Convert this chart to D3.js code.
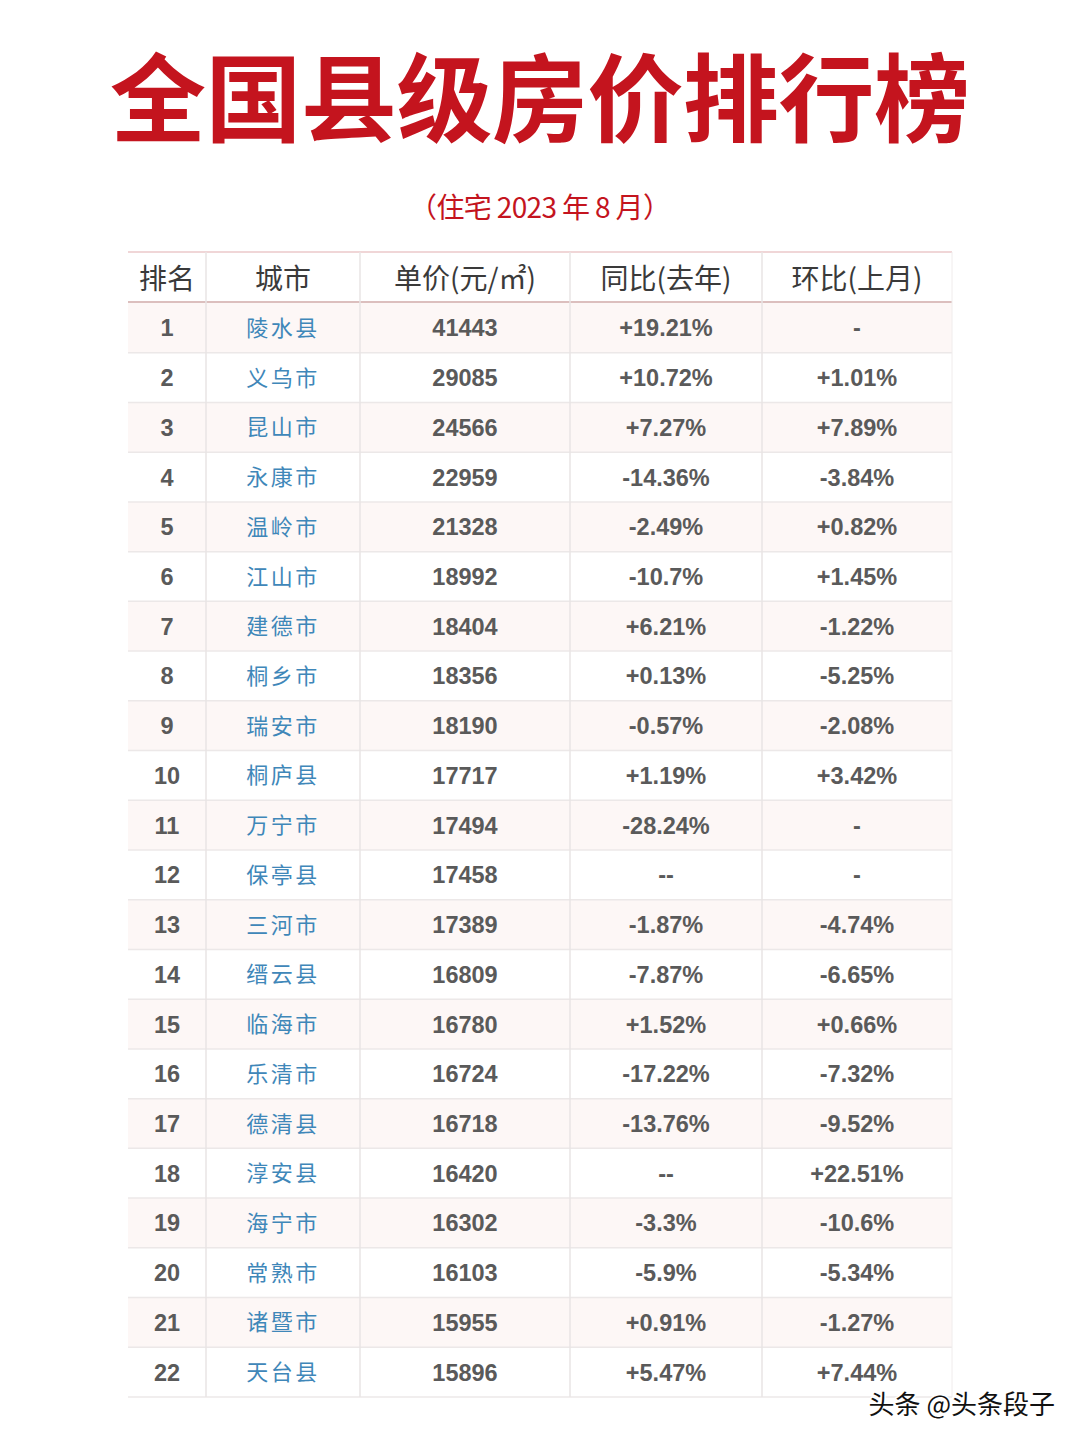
<!DOCTYPE html>
<html><head><meta charset="utf-8">
<script src="https://cdn.jsdelivr.net/npm/d3@7"></script>
<style>body{margin:0;background:#fff}svg{display:block}</style>
</head><body><div id="c"></div>
<script>
const headers = ["排名","城市","单价(元/㎡)","同比(去年)","环比(上月)"];
const ranks = d3.range(1,23);
const cities = ["陵水县","义乌市","昆山市","永康市","温岭市","江山市","建德市","桐乡市","瑞安市","桐庐县","万宁市","保亭县","三河市","缙云县","临海市","乐清市","德清县","淳安县","海宁市","常熟市","诸暨市","天台县"];
const prices = [41443,29085,24566,22959,21328,18992,18404,18356,18190,17717,17494,17458,17389,16809,16780,16724,16718,16420,16302,16103,15955,15896];
const yoy = ["+19.21%","+10.72%","+7.27%","-14.36%","-2.49%","-10.7%","+6.21%","+0.13%","-0.57%","+1.19%","-28.24%","--","-1.87%","-7.87%","+1.52%","-17.22%","-13.76%","--","-3.3%","-5.9%","+0.91%","+5.47%"];
const mom = ["-","+1.01%","+7.89%","-3.84%","+0.82%","+1.45%","-1.22%","-5.25%","-2.08%","+3.42%","-","-","-4.74%","-6.65%","+0.66%","-7.32%","-9.52%","+22.51%","-10.6%","-5.34%","-1.27%","+7.44%"];

const W=1080,H=1439;
const svg=d3.select("#c").append("svg").attr("width",W).attr("height",H);
svg.append("rect").attr("width",W).attr("height",H).attr("fill","#fff");

const colEdges=[128,206,360,570,762,952];
const cx=i=>(colEdges[i]+colEdges[i+1])/2;
const y=d3.scaleBand().domain(ranks).range([303,1397]).paddingInner(0);

// title
svg.append("text").attr("x",540).attr("y",134).attr("text-anchor","middle")
 .attr("font-family","'Noto Sans CJK SC'").attr("font-weight",700).attr("font-size",96)
 .attr("fill","#c4141e").attr("textLength",860).attr("lengthAdjust","spacing").text("全国县级房价排行榜");
svg.append("text").attr("x",540).attr("y",218).attr("text-anchor","middle")
 .attr("font-family","'Noto Sans CJK SC'").attr("font-size",28).attr("fill","#c4141e")
 .attr("textLength",262).attr("lengthAdjust","spacing")
 .text("（住宅  2023 年 8 月）");

// stripes
const g=svg.append("g");
g.selectAll("rect.row").data(ranks).join("rect").attr("class","row")
 .attr("x",colEdges[0]).attr("width",colEdges[5]-colEdges[0])
 .attr("y",d=>y(d)).attr("height",y.bandwidth())
 .attr("fill",d=>d%2?"#fdf7f6":"#ffffff");
// header lines
g.append("line").attr("x1",128).attr("x2",952).attr("y1",252).attr("y2",252).attr("stroke","#f0d6d7").attr("stroke-width",2);
g.append("line").attr("x1",128).attr("x2",952).attr("y1",302).attr("y2",302).attr("stroke","#dcbfbe").attr("stroke-width",2);
// row lines
g.selectAll("line.r").data(ranks).join("line").attr("class","r")
 .attr("x1",128).attr("x2",952).attr("y1",d=>y(d)+y.bandwidth()).attr("y2",d=>y(d)+y.bandwidth())
 .attr("stroke","#ece8e8").attr("stroke-width",1.5);
// col lines
g.selectAll("line.c").data(colEdges.slice(1,5)).join("line").attr("class","c")
 .attr("x1",d=>d).attr("x2",d=>d).attr("y1",252).attr("y2",1397)
 .attr("stroke","#e8e4e4").attr("stroke-width",1.5);
g.append("line").attr("x1",952).attr("x2",952).attr("y1",252).attr("y2",1397).attr("stroke","#f0ecec").attr("stroke-width",1);

// header text
svg.selectAll("text.h").data(headers).join("text").attr("class","h")
 .attr("x",(d,i)=>cx(i)).attr("y",289).attr("text-anchor","middle")
 .attr("font-family","'Noto Sans CJK SC'").attr("font-size",28).attr("fill","#3a3a3a").text(d=>d);

const body=svg.append("g");
const cols=[ranks.map(String),cities,prices.map(String),yoy,mom];
cols.forEach((arr,ci)=>{
  body.selectAll("text.c"+ci).data(arr).join("text").attr("class","c"+ci)
   .attr("x",cx(ci)).attr("y",(d,i)=>y(ranks[i])+y.bandwidth()/2+(ci===1?8:8.5))
   .attr("text-anchor","middle")
   .attr("font-family",ci===1?"'Noto Sans CJK SC'":"'Liberation Sans',Arial")
   .attr("font-weight",ci===1?400:700)
   .attr("font-size",ci===1?22:23.5)
   .attr("letter-spacing",ci===1?2.5:0)
   .attr("fill",ci===1?"#3f87b9":"#5a5a5a")
   .text(d=>d);
});

// watermark
svg.append("text").attr("x",1055).attr("y",1414).attr("text-anchor","end")
 .attr("font-family","'Noto Sans CJK SC'").attr("font-size",26).attr("fill","#111")
 .attr("stroke","#fff").attr("stroke-width",3).attr("paint-order","stroke")
 .text("头条 @头条段子");
</script></body></html>
